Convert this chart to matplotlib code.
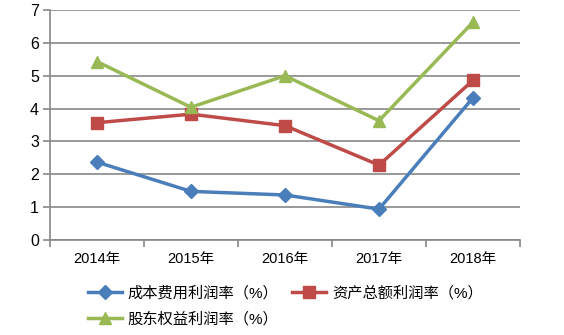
import numpy as np
import matplotlib.pyplot as plt

plt.rcParams['font.family'] = ['Liberation Sans', 'Noto Sans CJK SC']

years = ['2014年', '2015年', '2016年', '2017年', '2018年']
cost_margin = [2.37, 1.48, 1.37, 0.94, 4.33]
asset_margin = [3.57, 3.83, 3.48, 2.28, 4.86]
equity_margin = [5.43, 4.04, 5.0, 3.63, 6.63]
labels = ['成本费用利润率（%）', '资产总额利润率（%）', '股东权益利润率（%）']

grid_c = '#878787'

fig = plt.figure(figsize=(5.64, 3.35), dpi=100)
ax = fig.add_axes([50/564, 1-240/335, 470/564, 230/335])

x = np.arange(len(years))
l1, = ax.plot(x, cost_margin, color='#4A7EBB', lw=2.5, marker='D', ms=7.5, zorder=3)
l2, = ax.plot(x, asset_margin, color='#BE4B48', lw=2.5, marker='s', ms=8, zorder=3)
l3, = ax.plot(x, equity_margin, color='#98B954', lw=2.5, marker='^', ms=9, zorder=3)

ax.set_xlim(-0.5, len(years) - 0.5)
ax.set_ylim(0, 7)
ax.set_yticks(range(8))
ax.set_xticks(x)
ax.set_xticklabels(years)
ax.set_xticks(np.arange(-0.5, len(years)), minor=True)
ax.tick_params(axis='x', which='major', length=0, pad=9, labelsize=10.5)
ax.tick_params(axis='x', which='minor', length=5, width=1.2, color=grid_c, direction='out')
ax.tick_params(axis='y', length=5, width=1.2, color=grid_c, labelsize=11.5, pad=3)
ax.yaxis.grid(True, color=grid_c, lw=1.2)
ax.set_axisbelow(True)
for s in ['top', 'right']:
    ax.spines[s].set_visible(False)
for s in ['left', 'bottom']:
    ax.spines[s].set_color(grid_c)
    ax.spines[s].set_linewidth(1.2)

fig.legend([l1, l3, l2], [labels[0], labels[2], labels[1]], ncol=2,
           loc='upper left', bbox_to_anchor=(88/564, 1-286/335),
           frameon=False, fontsize=11, handlelength=2.2, handletextpad=0.4,
           columnspacing=0.9, labelspacing=0.75, borderaxespad=0, borderpad=0)

fig.savefig('out.png', dpi=100)
